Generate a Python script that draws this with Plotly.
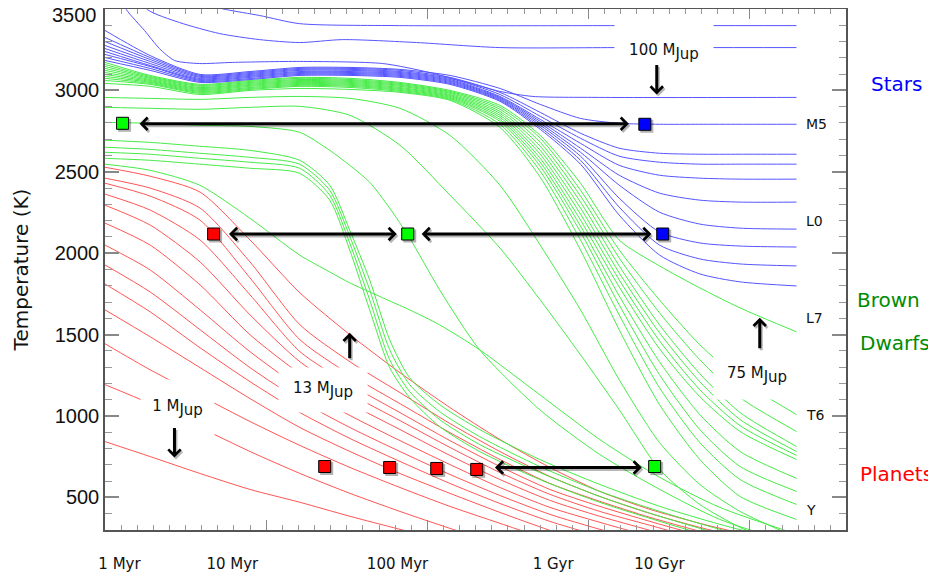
import plotly.graph_objects as go

# ---------------- data (x = log10(age / yr), y = effective temperature in K) ----------------
AGES_A = [6.0, 6.28, 6.59, 6.90, 7.21, 7.52, 7.83, 8.14, 8.45, 8.70, 8.95, 9.19, 9.44, 9.69, 9.94, 10.29]
AGES_B = [6.0, 6.276, 6.587, 6.897, 7.207, 7.394, 7.518, 7.642, 7.766, 7.890, 8.076, 8.324, 8.697, 9.069, 9.442, 9.814, 10.292]
AGES_R = [6.0, 6.28, 6.59, 6.90, 7.21, 7.52, 7.83, 8.14, 8.45, 8.76, 9.07, 9.38, 9.69, 10.0, 10.29]

# stars (blue)
star_top1_age = [6.6, 6.754, 6.959, 7.207, 7.828, 9.2, 10.29]
star_top1_T = [3530, 3496, 3460, 3410, 3398, 3398, 3398]
star_top2_age = [6.18, 6.264, 6.462, 6.711, 6.959, 7.207, 7.474, 7.933, 8.449, 9.2, 10.29]
star_top2_T = [3610, 3496, 3417, 3349, 3312, 3294, 3312, 3294, 3263, 3263, 3263]
star_100_age = [6.077, 6.133, 6.245, 6.338, 6.431, 6.587, 6.792, 7.207, 7.723, 8.014, 8.244, 8.449, 8.654, 9.07, 10.29]
star_100_T = [3613, 3496, 3368, 3257, 3184, 3165, 3172, 3178, 3165, 3110, 3049, 2994, 2963, 2957, 2957]
star_band_T = [
    [3368, 3214, 3098, 3116, 3141, 3141, 3129, 3092, 3012, 2914, 2828, 2798, 2792, 2792, 2792, 2792],
    [3325, 3202, 3092, 3110, 3135, 3135, 3123, 3080, 2988, 2865, 2737, 2645, 2614, 2608, 2608, 2608],
    [3300, 3190, 3086, 3104, 3129, 3129, 3116, 3073, 2975, 2841, 2706, 2596, 2559, 2547, 2547, 2547],
    [3276, 3178, 3080, 3098, 3123, 3123, 3110, 3067, 2963, 2822, 2675, 2540, 2479, 2461, 2455, 2455],
    [3257, 3165, 3073, 3092, 3116, 3116, 3104, 3061, 2957, 2810, 2645, 2479, 2369, 2326, 2314, 2314],
    [3239, 3153, 3067, 3086, 3110, 3110, 3098, 3055, 2951, 2798, 2620, 2418, 2252, 2179, 2154, 2148],
    [3221, 3147, 3061, 3080, 3104, 3104, 3092, 3049, 2945, 2786, 2596, 2338, 2130, 2063, 2044, 2038],
    [3202, 3135, 3055, 3073, 3098, 3098, 3086, 3043, 2939, 2773, 2571, 2283, 2050, 1965, 1934, 1922],
    [3184, 3123, 3049, 3067, 3092, 3092, 3080, 3037, 2933, 2761, 2547, 2234, 1989, 1873, 1824, 1799],
]

# brown dwarfs (green)
bd_band_T = [
    [3172, 3092, 3037, 3061, 3080, 3074, 3049, 3000, 2908, 2724, 2430, 2081, 1922, 1787, 1664, 1517],
    [3159, 3086, 3031, 3055, 3074, 3067, 3043, 2994, 2896, 2706, 2387, 2020, 1713, 1438, 1223, 1009],
    [3147, 3080, 3025, 3049, 3067, 3061, 3037, 2988, 2884, 2681, 2351, 1971, 1634, 1346, 1113, 905],
    [3135, 3074, 3018, 3043, 3061, 3055, 3031, 2982, 2871, 2657, 2314, 1922, 1560, 1260, 1021, 813],
    [3123, 3067, 3012, 3037, 3055, 3049, 3025, 2975, 2859, 2632, 2277, 1879, 1511, 1211, 978, 782],
    [3110, 3061, 3006, 3031, 3049, 3043, 3018, 2969, 2847, 2608, 2240, 1836, 1462, 1162, 941, 758],
    [3098, 3055, 3000, 3025, 3043, 3037, 3012, 2963, 2835, 2583, 2203, 1793, 1413, 1119, 905, 733],
    [3086, 3049, 2994, 3018, 3037, 3031, 3006, 2957, 2822, 2559, 2167, 1738, 1333, 1009, 782, 617],
    [3074, 3043, 2988, 3012, 3031, 3025, 3000, 2951, 2810, 2534, 2130, 1683, 1254, 917, 690, 537],
    [3061, 3037, 2982, 3006, 3025, 3018, 2994, 2945, 2792, 2504, 2081, 1621, 1174, 837, 610, 457],
    [3043, 3025, 2975, 3000, 3012, 3006, 2988, 2939, 2773, 2467, 2020, 1530, 1070, 733, 506, 365],
    [2957, 2951, 2945, 2957, 2963, 2951, 2890, 2724, 2418, 2050, 1652, 1223, 837, 580, 414, 255],
    [2896, 2890, 2884, 2896, 2902, 2847, 2663, 2357, 2032, 1713, 1376, 1039, 672, 457, 316, 169],
]
bd_low_T = [
    [2804, 2798, 2786, 2779, 2743, 2632, 2540, 2436, 2277, 2093, 1775, 1407, 1039, 764, 549, 365, 212],
    [2694, 2681, 2657, 2632, 2571, 2418, 2142, 1836, 1468, 1235, 1070, 917, 733, 580, 445, 335, 212],
    [2651, 2638, 2614, 2589, 2547, 2387, 2105, 1775, 1407, 1193, 1027, 874, 690, 537, 414, 304, 182],
    [2620, 2608, 2583, 2559, 2522, 2357, 2063, 1713, 1346, 1150, 978, 825, 653, 506, 384, 274, None],
    [2583, 2571, 2547, 2522, 2491, 2326, 2020, 1652, 1297, 1113, 935, 782, 610, 470, 353, 243, None],
    [2547, 2510, 2418, 2216, 1989, 1885, 1818, 1762, 1707, 1652, 1560, 1407, 1131, 856, 623, 439, 274],
]

# planets (red)
planet_T = [
    [2528, 2473, 2375, 2081, 1756, 1499, 1266, 1052, 856, 684, 537, 427, 341, 267, None],
    [2461, 2400, 2277, 1946, 1560, 1333, 1144, 954, 782, 629, 506, 402, 316, 243, None],
    [2430, 2351, 2203, 1848, 1468, 1254, 1076, 898, 733, 586, 476, 378, 292, 218, None],
    [2363, 2265, 2081, 1744, 1395, 1193, 1021, 849, 690, 549, 445, 353, 267, None, None],
    [2295, 2173, 1946, 1621, 1333, 1137, 972, 807, 653, 519, 414, 329, 243, None, None],
    [2185, 2050, 1805, 1499, 1260, 1076, 917, 758, 610, 482, 384, 298, 212, None, None],
    [2050, 1897, 1652, 1395, 1174, 1003, 849, 702, 561, 439, 347, 261, None, None, None],
    [1928, 1762, 1530, 1297, 1095, 929, 782, 641, 512, 396, 304, 218, None, None, None],
    [1811, 1640, 1419, 1211, 1021, 862, 721, 586, 463, 353, 261, None, None, None, None],
    [1652, 1487, 1297, 1107, 929, 782, 647, 525, 408, 298, 200, None, None, None, None],
    [1444, 1284, 1125, 966, 819, 684, 561, 445, 341, 237, None, None, None, None, None],
    [1193, 1076, 929, 782, 647, 525, 414, 310, 212, None, None, None, None, None, None],
    [843, 751, 647, 549, 470, 384, 304, 225, None, None, None, None, None, None, None],
]

# marked objects (squares)
square_age = [6.109, 9.349, 6.674, 7.878, 9.46, 7.363, 7.766, 8.058, 8.306, 9.41]
square_T = [2798, 2792, 2118, 2118, 2118, 690, 684, 678, 672, 690]
square_color = ["#00ff00", "#0000ff", "#ff0000", "#00ff00", "#0000ff",
                "#ff0000", "#ff0000", "#ff0000", "#ff0000", "#00ff00"]

# horizontal comparison arrows: (T, age_start, age_end)
harrow_T = [2795, 2118, 2118, 684]
harrow_from = [6.205, 6.76, 7.955, 8.41]
harrow_to = [9.25, 7.81, 9.39, 9.33]

# mass labels: text, label centre (age, T), box size, arrow age, arrow tail T, arrow head T
mass_text = ["100 M", "13 M", "1 M", "75 M"]
mass_label_age = [9.467, 7.350, 6.447, 10.044]
mass_label_T = [3233, 1160, 1050, 1254]
mass_box_w = [96, 86, 71, 84]
mass_box_h = [60, 42, 54, 46]
mass_arrow_age = [9.423, 7.518, 6.431, 10.062]
mass_arrow_from = [3166, 1346, 935, 1407]
mass_arrow_to = [2975, 1511, 745, 1603]

# spectral type marks
spt_text = ["M5", "L0", "L7", "T6", "Y"]
spt_T = [2792, 2197, 1603, 1009, 421]
spt_age = 10.336

# temperature ticks (top label is nudged down inside the frame, as in the original)
temp_ticks = [500, 1000, 1500, 2000, 2500, 3000, 3500]
temp_tick_text = ["500", "1000", "1500", "2000", "2500", "3000", ""]
top_label_text = "3500"
top_label_T = 3463

# age tick labels
age_label_pos = [6.09, 6.79, 7.815, 8.78, 9.44]
age_label_text = ["1 Myr", "10 Myr", "100 Myr", "1 Gyr", "10 Gyr"]

# group names
group_text = ["Stars", "Brown", "Dwarfs", "Planets"]
group_T = [3037, 1713, 1450, 641]
group_xpaper = [1.0675, 1.058, 1.066, 1.0675]
group_color = ["#0000ff", "#008c00", "#008c00", "#ff0000"]

# ---------------- figure ----------------
RED = "rgb(255,85,85)"
GREEN = "rgb(70,235,70)"
BLUE = "rgb(85,85,255)"
X_RANGE = [6, 10.597]
Y_RANGE = [300, 3500]
PLOT_W, PLOT_H = 741, 521

fig = go.Figure()


def add_curve(ages, temps, color):
    fig.add_trace(go.Scatter(
        x=ages, y=temps, mode="lines",
        line=dict(color=color, width=1, shape="spline", smoothing=0.7),
        hoverinfo="skip", showlegend=False, connectgaps=False))


for t in planet_T:
    add_curve(AGES_R, t, RED)
for t in bd_low_T:
    add_curve(AGES_B, t, GREEN)
for t in bd_band_T:
    add_curve(AGES_A, t, GREEN)
for t in star_band_T:
    add_curve(AGES_A, t, BLUE)
add_curve(star_top1_age, star_top1_T, BLUE)
add_curve(star_top2_age, star_top2_T, BLUE)
add_curve(star_100_age, star_100_T, BLUE)

# empty trace to register the overlay axis used for the age labels
fig.add_trace(go.Scatter(x=[None], y=[None], xaxis="x2", yaxis="y", showlegend=False, hoverinfo="skip"))

annotations = []
FONT = "DejaVu Sans"

# mass label boxes (white boxes hide the curves behind them)
for txt, xa, ya, w, h in zip(mass_text, mass_label_age, mass_label_T, mass_box_w, mass_box_h):
    annotations.append(dict(
        x=xa, y=ya, xref="x", yref="y", showarrow=False,
        text=txt + "<sub><span style='font-size:15px'>Jup</span></sub>",
        font=dict(family=FONT, size=15, color="#111"),
        bgcolor="white", width=w, height=h))


def arrow(x, y, ax, ay, both, shadow):
    d = dict(x=x, y=y, ax=ax, ay=ay, xref="x", yref="y", axref="x", ayref="y",
             text="", showarrow=True, arrowhead=4, arrowsize=0.8, arrowwidth=3,
             arrowcolor="rgba(0,0,0,0.28)" if shadow else "black",
             arrowside="end+start" if both else "end",
             startarrowhead=4, startarrowsize=0.8)
    if shadow:
        d.update(xshift=1.5, yshift=-2)
    return d


for shadow in (True, False):
    for T, a0, a1 in zip(harrow_T, harrow_from, harrow_to):
        annotations.append(arrow(a1, T, a0, T, True, shadow))
    for xa, t0, t1 in zip(mass_arrow_age, mass_arrow_from, mass_arrow_to):
        annotations.append(arrow(xa, t1, xa, t0, False, shadow))

for txt, T in zip(spt_text, spt_T):
    annotations.append(dict(x=spt_age, y=T, xref="x", yref="y", text=txt, showarrow=False,
                            xanchor="left", font=dict(family=FONT, size=14, color="#111")))

for txt, T, xp, c in zip(group_text, group_T, group_xpaper, group_color):
    annotations.append(dict(x=xp, y=T, xref="paper", yref="y", text=txt, showarrow=False,
                            xanchor="center", font=dict(family=FONT, size=20, color=c)))

# top temperature label
annotations.append(dict(x=-0.008, y=top_label_T, xref="paper", yref="y", text=top_label_text,
                        showarrow=False, xanchor="right", yanchor="middle",
                        font=dict(family="Liberation Sans", size=20, color="#111")))

# soft drop shadow under the squares (2 px right, 2 px down)
dx = 2 * (X_RANGE[1] - X_RANGE[0]) / PLOT_W
dy = 2 * (Y_RANGE[1] - Y_RANGE[0]) / PLOT_H
fig.add_trace(go.Scatter(
    x=[a + dx for a in square_age], y=[t - dy for t in square_T], mode="markers",
    marker=dict(symbol="square", size=13, color="rgba(0,0,0,0.3)", line=dict(width=0)),
    hoverinfo="skip", showlegend=False))
fig.add_trace(go.Scatter(
    x=square_age, y=square_T, mode="markers",
    marker=dict(symbol="square", size=12, color=square_color, line=dict(color="black", width=1)),
    hoverinfo="skip", showlegend=False))

fig.update_layout(
    width=936, height=577,
    margin=dict(l=97, r=98, t=1, b=55),
    paper_bgcolor="white", plot_bgcolor="white",
    showlegend=False,
    annotations=annotations,
    xaxis=dict(
        range=X_RANGE, showgrid=False, zeroline=False, automargin=False,
        showline=True, linecolor="#555", linewidth=1.5, mirror="ticks",
        tickmode="linear", tick0=6, dtick=1, ticks="inside", ticklen=10,
        tickwidth=1.2, tickcolor="#888", showticklabels=False,
        minor=dict(tick0=6, dtick=0.1, ticks="inside", ticklen=5, tickcolor="#999", tickwidth=1, showgrid=False),
    ),
    xaxis2=dict(
        overlaying="x", anchor="y", side="bottom", range=X_RANGE, automargin=False,
        showgrid=False, zeroline=False, showline=False, ticks="",
        tickmode="array", tickvals=age_label_pos, ticktext=age_label_text,
        tickfont=dict(family=FONT, size=15, color="#111"), ticklabelstandoff=23,
    ),
    yaxis=dict(
        range=Y_RANGE, showgrid=False, zeroline=False, automargin=False,
        showline=True, linecolor="#555", linewidth=1.5, mirror="ticks",
        tickmode="array", tickvals=temp_ticks, ticktext=temp_tick_text,
        ticks="inside", ticklen=14, tickwidth=1.5, tickcolor="#888",
        minor=dict(tick0=300, dtick=100, ticks="inside", ticklen=7, tickcolor="#999", tickwidth=1, showgrid=False),
        tickfont=dict(family="Liberation Sans", size=20, color="#111"),
        title=dict(text="Temperature (K)", font=dict(family=FONT, size=20, color="#111"), standoff=21),
    ),
)

fig.write_html("out.html")
